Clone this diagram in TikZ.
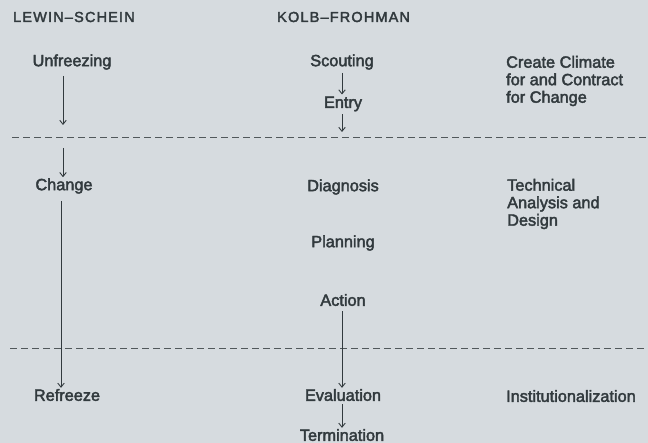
\documentclass[tikz,border=0pt]{standalone}
\usepackage{fontspec}
\setmainfont[FakeBold=2.5]{Liberation Sans}
\newfontfamily\headfont[LetterSpace=8,FakeBold=2.5]{Liberation Sans}
\definecolor{pbg}{RGB}{214,219,223}
\definecolor{pink}{RGB}{50,58,62}
\usetikzlibrary{arrows.meta,positioning,calc}

\begin{document}
\begin{tikzpicture}[x=1pt,y=-1pt,
  stage/.style={font=\fontsize{16.3}{17.5}\selectfont,text=pink,inner sep=1pt},
  head/.style={font=\headfont\fontsize{14.5}{15}\selectfont,text=pink,inner sep=1pt,anchor=west},
  note/.style={font=\fontsize{16.3}{17.5}\selectfont,text=pink,inner sep=1pt,align=left,anchor=west},
  flow/.style={draw=pink,line width=0.9pt,-{Straight Barb[length=4pt,width=6.5pt]}},
  divider/.style={draw=pink!85,line width=0.9pt,dash pattern=on 7pt off 4pt}
]
  \fill[pbg] (0,0) rectangle (648,443);
  \useasboundingbox (0,0) rectangle (648,443);

  % column heads
  \node[head] (lewin) at (12,17) {LEWIN–SCHEIN};
  \node[head] (kolb) at (276,17) {KOLB–FROHMAN};

  % Lewin-Schein
  \node[stage] (unfr) at (72,62) {Unfreezing};
  \node[stage] (chng) at (64,186) {Change};
  \node[stage] (refr) at (67,395) {Refreeze};

  % Kolb-Frohman
  \node[stage] (scout) at (342,62) {Scouting};
  \node[stage] (entry) at (343,104) {Entry};
  \node[stage] (diag) at (343,187) {Diagnosis};
  \node[stage] (plan) at (343,243) {Planning};
  \node[stage] (act) at (343,300) {Action};
  \node[stage] (eval) at (343,395) {Evaluation};
  \node[stage] (term) at (342,435) {Termination};

  % phases
  \node[note] (climate) at (505,81) {Create Climate\\for and Contract\\for Change};
  \node[note] (tech) at (506,204) {Technical\\Analysis and\\Design};
  \node[note] (inst) at (505,396) {Institutionalization};

  % dividers
  \coordinate (d1l) at (12,137);
  \coordinate (d1r) at (648,137);
  \coordinate (d2l) at (10,348);
  \coordinate (d2r) at (648,348);
  \draw[divider] (d1l) -- (d1r);
  \draw[divider] (d2l) -- (d2r);

  % arrows
  \coordinate (ua) at (63,125);
  \coordinate (ub) at (63,148);
  \coordinate (ea) at (342,132);
  \draw[flow,shorten <=5pt] (unfr.south -| ua) -- (ua);
  \draw[flow] (ub) -- (chng.north -| ub);
  \draw[flow,shorten <=6pt] (chng.south -| 61,0) -- (refr.north -| 61,0);
  \draw[flow,shorten <=2pt,shorten >=1pt] (scout.south -| ea) -- (entry.north -| ea);
  \draw[flow,shorten <=2pt] (entry.south -| ea) -- (ea);
  \draw[flow,shorten <=4pt] (act.south -| ea) -- (eval.north -| ea);
  \draw[flow,shorten <=2pt] (eval.south -| ea) -- (term.north -| ea);
\end{tikzpicture}
\end{document}
